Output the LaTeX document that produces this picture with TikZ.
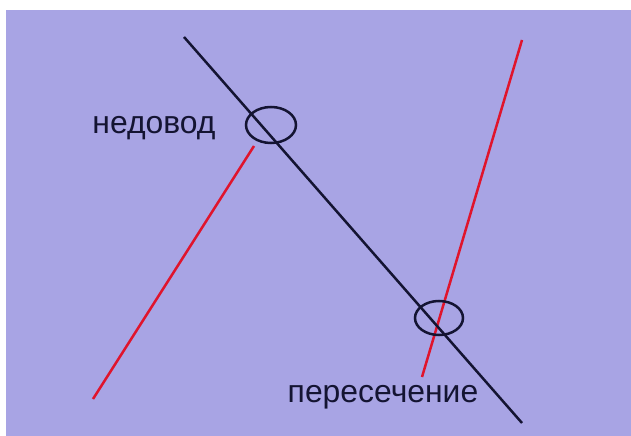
\documentclass[tikz,border=0pt]{standalone}
\usepackage{fontspec}
\setmainfont{Liberation Sans}
\definecolor{bgpurple}{HTML}{A8A4E4}
\definecolor{linered}{HTML}{E0142C}
\definecolor{lineblack}{HTML}{141432}
\begin{document}
\begin{tikzpicture}[x=1bp,y=-1bp,
  blackline/.style={draw=lineblack,line width=2.5bp},
  redline/.style={draw=linered,line width=2.5bp},
  ring/.style={draw=lineblack,line width=2.5bp},
  lbl/.style={font=\fontsize{32}{32}\selectfont,text=lineblack,inner sep=0pt,anchor=base}]
\useasboundingbox (0,0) rectangle (631,436);
\fill[white] (0,0) rectangle (631,436);
\fill[bgpurple] (6,10) rectangle (631,436);
\coordinate (b1) at (184,37);
\coordinate (b2) at (522,423);
\coordinate (r1a) at (93,399);
\coordinate (r1b) at (254,146);
\coordinate (r2a) at (522,40);
\coordinate (r2b) at (422,377);
\draw[redline] (r1a) -- (r1b);
\draw[redline] (r2a) -- (r2b);
\draw[blackline] (b1) -- (b2);
\draw[ring] (271,125) ellipse [x radius=25, y radius=18];
\draw[ring] (439,318) ellipse [x radius=24, y radius=17];
\node[lbl] (t1) at (154,134) {недовод};
\node[lbl] (t2) at (383,402) {пересечение};
\end{tikzpicture}
\end{document}
